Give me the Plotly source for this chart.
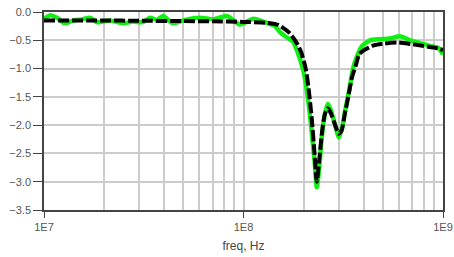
import plotly.graph_objects as go

# Measured (green) trace
meas_freq = [1.0e7, 1.07e7, 1.16e7, 1.27e7, 1.40e7, 1.55e7, 1.70e7, 1.85e7, 2.14e7, 2.49e7,
             2.79e7, 3.13e7, 3.40e7, 3.68e7, 3.95e7, 4.43e7, 5.09e7, 6.05e7, 7.03e7, 8.27e7,
             9.60e7, 1.12e8, 1.28e8, 1.44e8, 1.52e8, 1.65e8, 1.77e8, 1.85e8, 1.99e8, 2.08e8,
             2.18e8, 2.28e8, 2.33e8, 2.39e8, 2.47e8, 2.56e8, 2.65e8, 2.75e8, 2.88e8, 3.01e8,
             3.12e8, 3.23e8, 3.38e8, 3.54e8, 3.71e8, 3.93e8, 4.31e8, 4.83e8, 5.42e8, 6.08e8,
             6.84e8, 7.67e8, 8.61e8, 9.44e8, 1.0e9]
meas_db = [-0.12, -0.06, -0.10, -0.20, -0.15, -0.13, -0.10, -0.18, -0.15, -0.20,
           -0.17, -0.18, -0.10, -0.14, -0.07, -0.20, -0.14, -0.10, -0.13, -0.07,
           -0.22, -0.12, -0.18, -0.25, -0.35, -0.45, -0.52, -0.67, -1.02, -1.40,
           -2.00, -2.70, -3.10, -2.80, -2.20, -1.80, -1.62, -1.75, -2.00, -2.22,
           -2.05, -1.75, -1.40, -1.00, -0.78, -0.60, -0.50, -0.48, -0.47, -0.43,
           -0.50, -0.55, -0.60, -0.63, -0.75]

# Simulated (black dashed) trace
sim_freq = [1.0e7, 2.0e7, 3.0e7, 5.0e7, 7.0e7, 1.0e8, 1.3e8, 1.5e8, 1.7e8, 1.85e8,
            1.95e8, 2.05e8, 2.12e8, 2.2e8, 2.27e8, 2.33e8, 2.4e8, 2.48e8, 2.56e8, 2.65e8,
            2.75e8, 2.88e8, 3.0e8, 3.1e8, 3.22e8, 3.35e8, 3.5e8, 3.65e8, 3.8e8, 4.0e8,
            4.5e8, 5.0e8, 6.0e8, 7.0e8, 8.0e8, 9.0e8, 1.0e9]
sim_db = [-0.15, -0.15, -0.155, -0.16, -0.165, -0.175, -0.19, -0.23, -0.37, -0.55,
          -0.72, -1.00, -1.35, -1.90, -2.50, -3.00, -2.60, -2.10, -1.80, -1.70,
          -1.80, -2.00, -2.15, -2.10, -1.80, -1.50, -1.15, -0.95, -0.75, -0.68,
          -0.59, -0.56, -0.54, -0.57, -0.60, -0.63, -0.67]

x_major = [1e7, 1e8, 1e9]
x_major_text = ["1E7", "1E8", "1E9"]
x_minor = [m * d for d in (1e7, 1e8) for m in range(2, 10)]
y_ticks = [0.0, -0.5, -1.0, -1.5, -2.0, -2.5, -3.0, -3.5]

fig = go.Figure()
fig.add_trace(go.Scatter(x=meas_freq, y=meas_db, mode="lines",
                         line=dict(color="#11ee11", width=4.5, shape="spline", smoothing=0.6)))
fig.add_trace(go.Scatter(x=sim_freq, y=sim_db, mode="lines",
                         line=dict(color="#000000", width=4, dash="11px,3px",
                                   shape="spline", smoothing=0.6)))

tick_font = dict(family="Liberation Sans, Arial, sans-serif", size=11, color="#555555")

fig.update_layout(
    width=454, height=257,
    margin=dict(l=44, r=11, t=12, b=47, autoexpand=False),
    paper_bgcolor="white", plot_bgcolor="white",
    showlegend=False,
    xaxis=dict(type="log", range=[7, 9],
               tickvals=x_major, ticktext=x_major_text,
               ticks="outside", ticklen=6, tickcolor="#444444",
               ticklabeloverflow="allow",
               showgrid=True, gridcolor="#cccccc", gridwidth=1.5,
               minor=dict(tickvals=x_minor, showgrid=True, gridcolor="#cccccc", gridwidth=1.5, ticks=""),
               showline=True, linecolor="#444444", linewidth=1.5, mirror=True,
               tickfont=tick_font,
               title=dict(text="freq, Hz", font=dict(family="Liberation Sans, Arial, sans-serif", size=12, color="#444444"), standoff=10),
               zeroline=False),
    yaxis=dict(range=[-3.5, 0.0], tickvals=y_ticks, tickformat=".1f",
               ticks="outside", ticklen=9, tickcolor="#444444",
               ticklabeloverflow="allow",
               showgrid=True, gridcolor="#cccccc", gridwidth=1.5,
               showline=True, linecolor="#444444", linewidth=1.5, mirror=True,
               tickfont=tick_font, zeroline=False),
)

fig.write_html("out.html", config={"displayModeBar": False},
               post_script="document.body.style.margin='0';document.body.style.overflow='hidden';")
